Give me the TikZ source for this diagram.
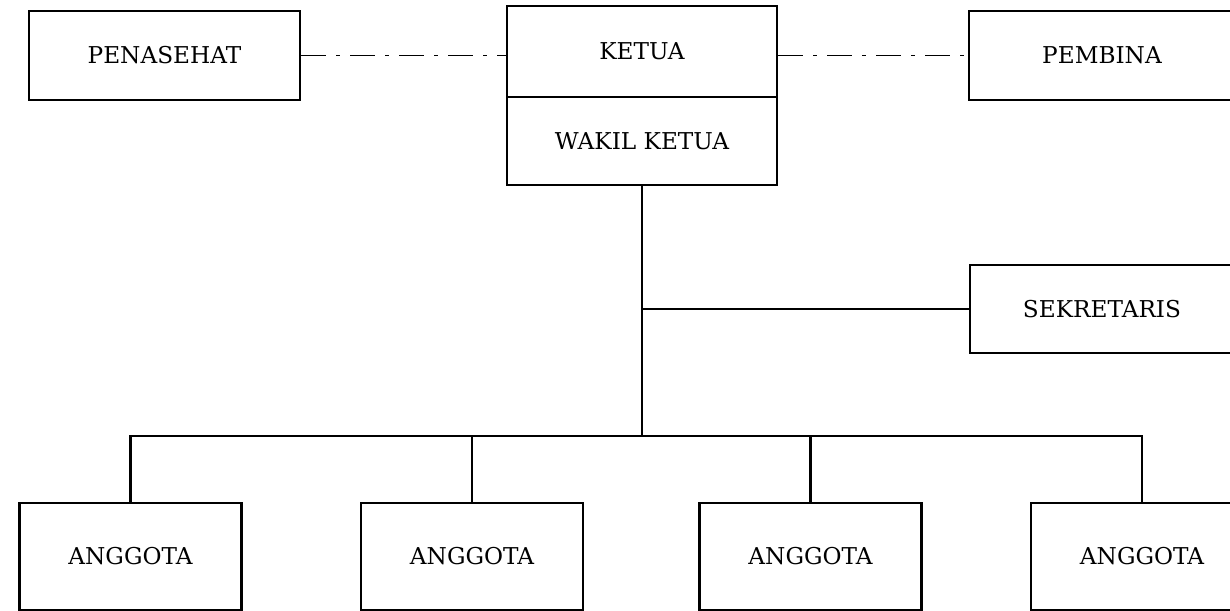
\documentclass[tikz,border=0pt]{standalone}
\usepackage{fontspec}
\setmainfont{DejaVu Serif}
\usetikzlibrary{positioning}
\tikzstyle{jabatan} = [rectangle, minimum width=5.4cm, minimum height=1.78cm, inner sep=0pt, text centered, draw=black, line width=1.2pt, font=\fontsize{13.2}{15}\selectfont]
\tikzstyle{anggota} = [rectangle, minimum width=4.44cm, minimum height=2.14cm, inner sep=0pt, text centered, draw=black, line width=1.2pt, font=\fontsize{13.2}{15}\selectfont]
\tikzstyle{garis} = [line width=1.3pt]
\tikzstyle{garistitik} = [line width=1pt, dash pattern=on 0.5cm off 0.2cm on 0.08cm off 0.2cm]

\begin{document}
\begin{tikzpicture}[node distance=2cm]
\useasboundingbox (-12.84,1.03) rectangle (11.76,-11.19);
\node (ketua) [jabatan, minimum height=1.82cm] {KETUA};
\node (wakil) [jabatan, minimum height=1.76cm, below of=ketua, yshift=0.21cm] {WAKIL KETUA};
\node (penasehat) [jabatan, minimum width=5.42cm, left of=ketua, xshift=-7.55cm, yshift=-0.08cm] {PENASEHAT};
\node (pembina) [jabatan, minimum width=5.32cm, right of=ketua, xshift=7.2cm, yshift=-0.08cm] {PEMBINA};
\node (sekretaris) [jabatan, minimum width=5.28cm, minimum height=1.76cm, below of=pembina, yshift=-3.07cm] {SEKRETARIS};
\node (cabang) [coordinate, below of=wakil, yshift=-3.9cm] {};
\node (anggota2) [anggota, below of=wakil, xshift=-3.4cm, yshift=-6.31cm] {ANGGOTA};
\node (anggota3) [anggota, below of=wakil, xshift=3.37cm, yshift=-6.31cm] {ANGGOTA};
\node (anggota1) [anggota, left of=anggota2, xshift=-4.83cm] {ANGGOTA};
\node (anggota4) [anggota, right of=anggota3, xshift=4.63cm] {ANGGOTA};

% garis koordinasi
\draw [garistitik] (penasehat.east) -- (penasehat.east -| ketua.west);
\draw [garistitik] (ketua.east |- pembina.west) -- (pembina.west);

% garis komando
\draw [garis, line width=1.7pt] (wakil.south) -- (cabang);
\draw [garis] (sekretaris.west) -- (sekretaris.west -| wakil.south);
\draw [garis] (anggota1.north) |- (cabang) -| (anggota4.north);
\draw [garis] (anggota2.north) -- (anggota2.north |- cabang);
\draw [garis] (anggota3.north) -- (anggota3.north |- cabang);
\end{tikzpicture}
\end{document}
